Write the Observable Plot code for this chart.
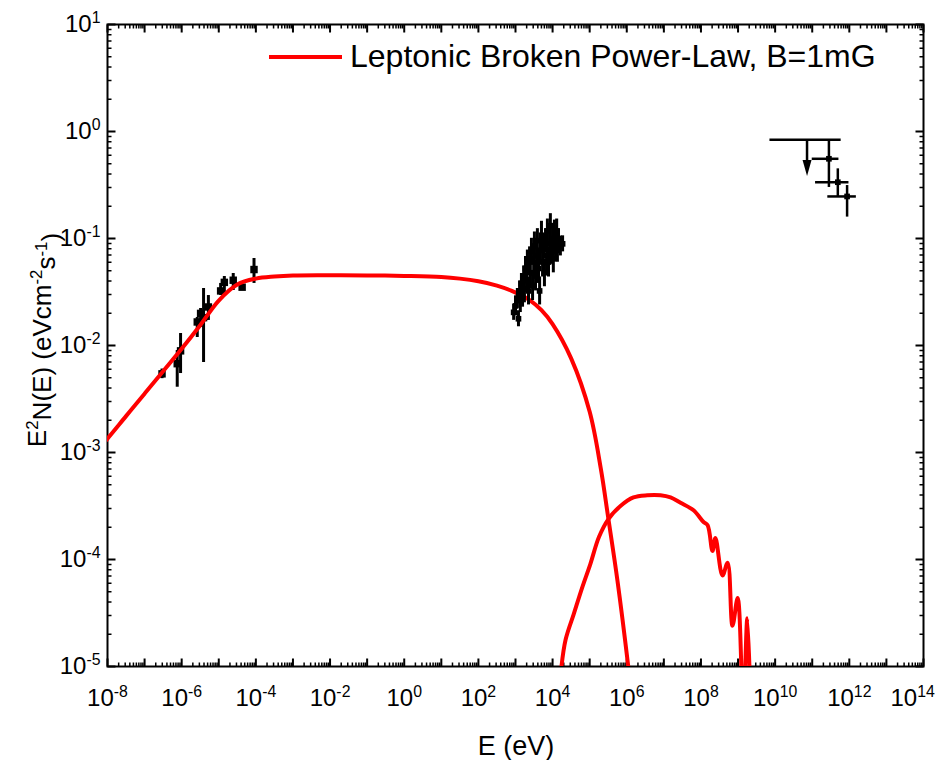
<!DOCTYPE html>
<html><head><meta charset="utf-8">
<script src="https://cdn.jsdelivr.net/npm/d3@7"></script>
<script src="https://cdn.jsdelivr.net/npm/@observablehq/plot@0.6"></script>
<style>
body{margin:0;background:#fff}
</style>
</head><body><div id="chart"></div>
<script>
// ---- Model curves (log10 E [eV], log10 E^2N(E)) ----
const syncLogE = [-8.1,-8,-7.5,-7,-6.5,-6,-5.5,-5,-4.5,-4,-3.5,-3,-2,-1,0,1,1.5,2,2.5,2.9,3.4,3.7,4,4.5,5,5.3,5.5,5.75,6.04,6.12];
const syncLogF = [-2.91,-2.87,-2.66,-2.45,-2.24,-2.03,-1.81,-1.58,-1.43,-1.375,-1.355,-1.345,-1.343,-1.345,-1.35,-1.36,-1.375,-1.40,-1.44,-1.49,-1.58,-1.67,-1.80,-2.12,-2.62,-3.15,-3.61,-4.20,-5.0,-5.25];
const icLogE = [4.18,4.24,4.35,4.57,4.80,5.02,5.25,5.51,5.83,6.18,6.55,6.91,7.18,7.45,7.80,8.07,8.18,8.31,8.39,8.58,8.72,8.85,8.99,9.14,9.25,9.34];
const icLogF = [-5.3,-5.0,-4.75,-4.51,-4.26,-4.04,-3.79,-3.62,-3.50,-3.42,-3.40,-3.40,-3.42,-3.47,-3.54,-3.65,-3.68,-3.92,-3.80,-4.15,-4.03,-4.62,-4.36,-5.4,-4.55,-5.4];

// ---- Radio data ----
const radioLogE = [-6.53,-6.12,-6.03,-5.58,-5.49,-5.41,-5.28,-4.95,-4.85,-4.61,-4.37,-4.05];
const radioLogF = [-2.265,-2.17,-2.05,-1.78,-1.70,-1.74,-1.64,-1.49,-1.41,-1.39,-1.455,-1.29];
const radioLogLo = [-2.31,-2.39,-2.262,-1.925,-1.832,-2.159,-1.766,-1.533,-1.514,-1.486,-1.486,-1.42];
const radioLogHi = [-2.22,-2.047,-1.888,-1.738,-1.654,-1.467,-1.533,-1.42,-1.355,-1.327,-1.43,-1.187];

// ---- X-ray data ----
const xrayLogE = [2.95,3.00,3.05,3.08,3.11,3.13,3.16,3.19,3.22,3.24,3.27,3.30,3.32,3.35,3.38,3.40,3.43,3.46,3.49,3.51,3.54,3.57,3.59,3.62,3.65,3.67,3.70,3.73,3.76,3.78,3.81,3.84,3.86,3.89,3.92,3.94,3.97,4.00,4.02,4.05,4.08,4.11,4.13,4.16,4.21,4.27];
const xrayLogF = [-1.69,-1.63,-1.56,-1.75,-1.49,-1.58,-1.42,-1.53,-1.35,-1.47,-1.28,-1.39,-1.22,-1.49,-1.19,-1.32,-1.11,-1.44,-1.22,-1.07,-1.35,-1.16,-1.02,-1.28,-1.49,-1.11,-0.97,-1.22,-1.07,-1.32,-1.02,-1.16,-0.93,-1.22,-1.05,-0.88,-1.11,-1.00,-1.19,-0.94,-1.07,-0.93,-1.11,-1.02,-1.07,-1.05];
const xrayLogErr = [0.075,0.093,0.093,0.075,0.093,0.112,0.093,0.112,0.093,0.131,0.112,0.112,0.112,0.131,0.112,0.131,0.112,0.14,0.131,0.131,0.14,0.131,0.112,0.14,0.131,0.131,0.131,0.14,0.112,0.131,0.112,0.14,0.112,0.14,0.112,0.112,0.131,0.112,0.131,0.112,0.112,0.112,0.112,0.112,0.093,0.075];

// ---- Gamma-ray data ----
const gammaLogE = [11.45,11.69,11.94];
const gammaLogF = [-0.255,-0.474,-0.607];
const gammaLogELo = [11.0,11.09,11.42];
const gammaLogEHi = [11.72,11.99,12.19];
const gammaLogFLo = [-0.523,-0.614,-0.80];
const gammaLogFHi = [-0.084,-0.349,-0.505];
// upper limit
const ulLogE = [10.86];
const ulLogF = [-0.078];
const ulLogELo = [9.86];
const ulLogEHi = [11.78];
const ulArrowLogF = [-0.34];

// ---- Axes ----
const xLabelTicks = [1e-8,1e-6,1e-4,1e-2,1e0,1e2,1e4,1e6,1e8,1e10,1e12,1e14];
const yLabelTicks = [1e-5,1e-4,1e-3,1e-2,1e-1,1e0,1e1];
const xDomain = [1e-8, 1e14];
const yDomain = [1e-5, 10];
const xDecades = d3.range(-8, 15);
const yDecades = d3.range(-5, 2);
const xMajor = xDecades.map(d => 10 ** d);
const yMajor = yDecades.map(d => 10 ** d);
const xMinor = xDecades.slice(0, -1).flatMap(d => d3.range(2, 10).map(m => m * 10 ** d));
const yMinor = yDecades.slice(0, -1).flatMap(d => d3.range(2, 10).map(m => m * 10 ** d));

const p = v => 10 ** v;
const sync = syncLogE.map((e, i) => ({E: p(e), F: p(syncLogF[i])}));
const ic = icLogE.map((e, i) => ({E: p(e), F: p(icLogF[i])}));
const radio = radioLogE.map((e, i) => ({E: p(e), F: p(radioLogF[i]), lo: p(radioLogLo[i]), hi: p(radioLogHi[i])}));
const xray = xrayLogE.map((e, i) => ({E: p(e), F: p(xrayLogF[i]), lo: p(xrayLogF[i] - xrayLogErr[i]), hi: p(xrayLogF[i] + xrayLogErr[i])}));
const gamma = gammaLogE.map((e, i) => ({E: p(e), F: p(gammaLogF[i]), e1: p(gammaLogELo[i]), e2: p(gammaLogEHi[i]), lo: p(gammaLogFLo[i]), hi: p(gammaLogFHi[i])}));
const ul = ulLogE.map((e, i) => ({E: p(e), F: p(ulLogF[i]), e1: p(ulLogELo[i]), e2: p(ulLogEHi[i]), a: p(ulArrowLogF[i])}));

const downTri = {draw(ctx) { ctx.moveTo(-4.5, -8); ctx.lineTo(4.5, -8); ctx.lineTo(0, 8); ctx.closePath(); }};
const fmt = d => "10^" + Math.round(Math.log10(d));

// layout
const W = 936, H = 760, mL = 107, mR = 13, mT = 24, mB = 94;
const innerW = W - mL - mR, innerH = H - mT - mB;
// pixels per decade -> multiplicative factor for an inward tick of `len` px
const pxDecX = innerW / Math.log10(xDomain[1] / xDomain[0]);
const pxDecY = innerH / Math.log10(yDomain[1] / yDomain[0]);
const fx = len => 10 ** (len / pxDecX);
const fy = len => 10 ** (len / pxDecY);
// tick segments as one gapped polyline per side
function xTickPath(vals, len) {
  const k = fy(len), out = [];
  for (const v of vals) {
    out.push({x: v, y: yDomain[0]}, {x: v, y: yDomain[0] * k}, {x: v, y: NaN});
    out.push({x: v, y: yDomain[1]}, {x: v, y: yDomain[1] / k}, {x: v, y: NaN});
  }
  return out;
}
function yTickPath(vals, len) {
  const k = fx(len), out = [];
  for (const v of vals) {
    out.push({y: v, x: xDomain[0]}, {y: v, x: xDomain[0] * k}, {y: v, x: NaN});
    out.push({y: v, x: xDomain[1]}, {y: v, x: xDomain[1] / k}, {y: v, x: NaN});
  }
  return out;
}
const tickLine = (data, sw) => Plot.line(data, {x: "x", y: "y", stroke: "black", strokeWidth: sw, strokeLinecap: "butt", curve: "linear"});

const chart = Plot.plot({
  width: W, height: H,
  marginLeft: mL, marginRight: mR, marginTop: mT, marginBottom: mB,
  style: {fontFamily: '"Liberation Sans", Arial, sans-serif', background: "white"},
  x: {type: "log", domain: xDomain},
  y: {type: "log", domain: yDomain},
  marks: [
    Plot.frame({stroke: "black", fill: "none", strokeWidth: 2}),
    // tick labels
    Plot.axisX(xLabelTicks, {anchor: "bottom", tickSize: 0, tickPadding: 22, fontSize: 24, tickFormat: fmt, label: null}),
    Plot.axisY(yLabelTicks, {anchor: "left", tickSize: 0, tickPadding: 7, fontSize: 24, tickFormat: fmt, label: null}),
    // inward ticks on all four sides
    tickLine(xTickPath(xMajor, 8), 2),
    tickLine(xTickPath(xMinor, 4), 1.5),
    tickLine(yTickPath(yMajor, 8), 2),
    tickLine(yTickPath(yMinor, 4), 1.5),
    // radio
    Plot.ruleX(radio, {x: "E", y1: "lo", y2: "hi", stroke: "black", strokeWidth: 3}),
    Plot.dot(radio, {x: "E", y: "F", symbol: "square", r: 4.2, fill: "black", stroke: "none"}),
    // model
    Plot.line(sync, {x: "E", y: "F", stroke: "#ff0000", strokeWidth: 4, curve: "catmull-rom", clip: true}),
    Plot.line(ic, {x: "E", y: "F", stroke: "#ff0000", strokeWidth: 4, curve: "catmull-rom", clip: true}),
    // x-ray
    Plot.ruleX(xray, {x: "E", y1: "lo", y2: "hi", stroke: "black", strokeWidth: 3}),
    Plot.dot(xray, {x: "E", y: "F", symbol: "square", r: 3.2, fill: "black", stroke: "none"}),
    // gamma
    Plot.ruleY(ul, {y: "F", x1: "e1", x2: "e2", stroke: "black", strokeWidth: 2.5}),
    Plot.ruleX(ul, {x: "E", y1: "F", y2: "a", stroke: "black", strokeWidth: 2.5}),
    Plot.dot(ul, {x: "E", y: "a", symbol: downTri, fill: "black", stroke: "none"}),
    Plot.ruleX(gamma, {x: "E", y1: "lo", y2: "hi", stroke: "black", strokeWidth: 2.5}),
    Plot.ruleY(gamma, {y: "F", x1: "e1", x2: "e2", stroke: "black", strokeWidth: 2.5}),
    Plot.dot(gamma, {x: "E", y: "F", symbol: "square", r: 3.2, fill: "black", stroke: "none"})
  ]
});

document.getElementById("chart").appendChild(chart);
const svg = d3.select(chart);

// superscript tick labels
svg.selectAll("text").each(function () {
  const t = d3.select(this);
  const m = /^10\^(-?\d+)$/.exec(t.text());
  if (!m) return;
  t.text(null);
  t.append("tspan").text("10");
  t.append("tspan").attr("dy", "-0.55em").attr("font-size", "0.66em").text(m[1]);
});
svg.selectAll("text").attr("fill", "black");
// keep the last x label inside the picture
svg.selectAll("text").each(function () {
  const b = this.getBBox();
  const ctm = this.getCTM();
  const right = b.x + b.width + (ctm ? ctm.e : 0);
  if (right > W) d3.select(this).attr("dx", W - right - 1);
});

// axis titles
svg.append("text")
  .attr("x", 516).attr("y", 755)
  .attr("text-anchor", "middle").attr("font-size", 27).attr("fill", "black")
  .text("E (eV)");

const yl = svg.append("text")
  .attr("transform", "translate(46,340) rotate(-90)")
  .attr("text-anchor", "middle").attr("font-size", 26).attr("fill", "black");
yl.append("tspan").text("E");
yl.append("tspan").attr("dy", "-0.5em").attr("font-size", "0.65em").text("2");
yl.append("tspan").attr("dy", "0.5em").text("N(E) (eVcm");
yl.append("tspan").attr("dy", "-0.5em").attr("font-size", "0.65em").text("-2");
yl.append("tspan").attr("dy", "0.5em").text("s");
yl.append("tspan").attr("dy", "-0.5em").attr("font-size", "0.65em").text("-1");
yl.append("tspan").attr("dy", "0.5em").text(")");

// legend
svg.append("line")
  .attr("x1", 269).attr("x2", 342).attr("y1", 57).attr("y2", 57)
  .attr("stroke", "#ff0000").attr("stroke-width", 4);
svg.append("text")
  .attr("x", 350).attr("y", 67).attr("text-anchor", "start").attr("font-size", 32).attr("fill", "black")
  .text("Leptonic Broken Power-Law, B=1mG");
</script>
</body></html>
